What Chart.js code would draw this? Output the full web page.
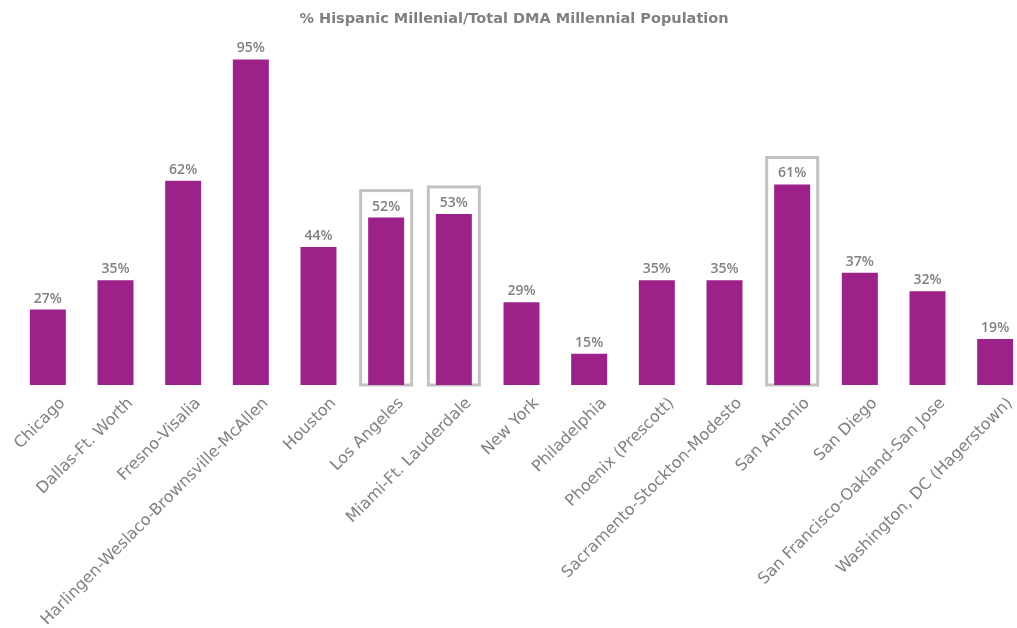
<!DOCTYPE html>
<html>
<head>
<meta charset="utf-8">
<script src="https://cdn.jsdelivr.net/npm/chart.js@4.4.1/dist/chart.umd.min.js"></script>
<style>
    html, body { margin: 0; padding: 0; background: #ffffff; overflow: hidden; }
    #wrap { position: relative; width: 1044px; height: 628px; }
    #titulo {
        position: absolute; left: 0; width: 1028px; top: 10px;
        text-align: center; font: bold 14.5px "DejaVu Sans", sans-serif; color: #808080;
    }
</style>
</head>
<body>
<div id="wrap">
    <div id="titulo">% Hispanic Millenial/Total DMA Millennial Population</div>
    <canvas id="dmaChart"></canvas>
</div>
<script>
// Mercados (DMA) e percentual de millennials hispânicos
const mercados = [
    'Chicago', 'Dallas-Ft. Worth', 'Fresno-Visalia', 'Harlingen-Weslaco-Brownsville-McAllen',
    'Houston', 'Los Angeles', 'Miami-Ft. Lauderdale', 'New York', 'Philadelphia',
    'Phoenix (Prescott)', 'Sacramento-Stockton-Modesto', 'San Antonio', 'San Diego',
    'San Francisco-Oakland-San Jose', 'Washington, DC (Hagerstown)'
];
const percentuais = [27, 35, 62, 95, 44, 52, 53, 29, 15, 35, 35, 61, 37, 32, 19];
// Mercados com moldura de destaque
const destaques = ['Los Angeles', 'Miami-Ft. Lauderdale', 'San Antonio'];

const COR_BARRA = '#9c2189';
const COR_TEXTO = '#808080';

// Desenha a moldura cinza em volta das barras destacadas
const molduraPlugin = {
    id: 'moldura',
    beforeDatasetsDraw(chart) {
        const ctx = chart.ctx;
        const meta = chart.getDatasetMeta(0);
        const base = chart.scales.y.getPixelForValue(chart.scales.y.min);
        ctx.save();
        ctx.strokeStyle = '#c2c2c2';
        ctx.lineWidth = 3;
        meta.data.forEach((bar, i) => {
            if (!destaques.includes(mercados[i])) return;
            const topo = bar.y - 27;
            ctx.strokeRect(bar.x - 25.5, topo, 51, base - topo);
        });
        ctx.restore();
    }
};

// Rótulo de valor acima de cada barra
const rotuloPlugin = {
    id: 'rotuloValor',
    afterDatasetsDraw(chart) {
        const ctx = chart.ctx;
        const meta = chart.getDatasetMeta(0);
        ctx.save();
        ctx.fillStyle = COR_TEXTO;
        ctx.font = '600 14px "Open Sans", sans-serif';
        ctx.textAlign = 'center';
        ctx.textBaseline = 'middle';
        meta.data.forEach((bar, i) => {
            ctx.fillText(percentuais[i] + '%', bar.x, bar.y - 11);
        });
        ctx.restore();
    }
};

const ctx = document.getElementById('dmaChart').getContext('2d');
new Chart(ctx, {
    type: 'bar',
    data: {
        labels: mercados,
        datasets: [{
            data: percentuais,
            backgroundColor: COR_BARRA,
            borderWidth: 0,
            barPercentage: 0.532,
            categoryPercentage: 1
        }]
    },
    options: {
        responsive: true,
        maintainAspectRatio: false,
        animation: false,
        layout: { padding: { left: 14, right: 15, top: 41, bottom: 0 } },
        plugins: {
            legend: { display: false },
            tooltip: { enabled: false }
        },
        scales: {
            y: {
                display: false,
                min: 6.5,
                max: 100
            },
            x: {
                grid: { display: false },
                border: { display: false },
                ticks: {
                    autoSkip: false,
                    minRotation: 45,
                    maxRotation: 45,
                    labelOffset: 15,
                    padding: 1,
                    color: COR_TEXTO,
                    font: { family: '"DejaVu Sans", sans-serif', size: 16 }
                },
                afterFit(scale) {
                    scale.height = 243;
                }
            }
        }
    },
    plugins: [molduraPlugin, rotuloPlugin]
});
</script>
</body>
</html>
